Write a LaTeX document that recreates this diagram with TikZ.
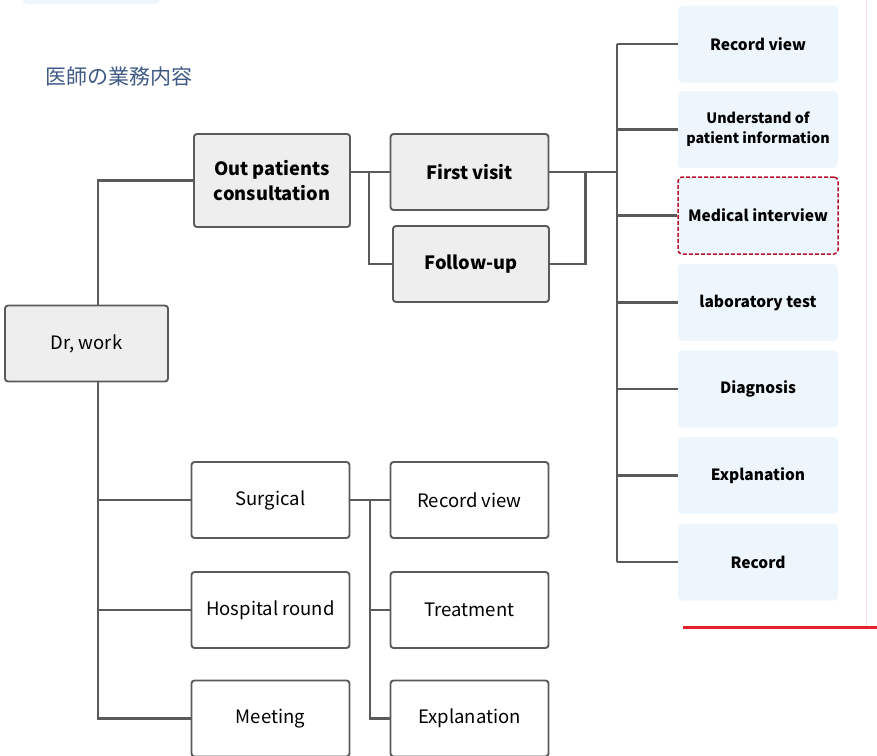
\documentclass[tikz,border=0pt]{standalone}
\usepackage{fontspec}
\setmainfont{Noto Sans CJK JP}
\definecolor{linegray}{HTML}{5A5A5A}
\definecolor{boxgray}{HTML}{EEEEEE}
\definecolor{paleblue}{HTML}{EDF6FD}
\definecolor{titleblue}{HTML}{3E5A85}
\definecolor{hlred}{HTML}{B8102A}
\definecolor{barred}{HTML}{E8202A}
\begin{document}
\begin{tikzpicture}[
            x=1pt, y=-1pt,
            every node/.style={align=center, inner sep=0pt},
            box/.style={draw=linegray, line width=1.9pt, rounded corners=3pt,
                minimum width=158pt, minimum height=76pt},
            graybox/.style={box, fill=boxgray, font=\fontsize{18.3}{25}\selectfont\bfseries},
            whitebox/.style={box, fill=white, font=\fontsize{18.5}{25}\selectfont},
            bluebox/.style={fill=paleblue, rounded corners=4pt, minimum width=160pt,
                minimum height=77pt, font=\fontsize{15.5}{20}\selectfont\bfseries},
            hilite/.style={draw=hlred, dash pattern=on 4pt off 2pt, line width=1.5pt},
            link/.style={draw=linegray, line width=2.1pt}
            ]
            \useasboundingbox (0,0) rectangle (877,755);
            \fill[paleblue, rounded corners=6pt] (22,-20) rectangle (160,4);
            \node[text=titleblue, font=\fontsize{21}{24}\selectfont] (title) at (118.5,77) {医師の業務内容};
            % main tree
            \node[graybox, minimum width=163pt, font=\fontsize{18.5}{25}\selectfont] (drwork) at (86.5,343.5) {Dr, work};
            \node[graybox, minimum width=156pt, minimum height=93pt] (outpat) at (272,180.5) {Out patients\\consultation};
            \node[graybox] (first) at (469.5,172) {First visit};
            \node[graybox, minimum width=156pt] (follow) at (471,264) {Follow-up};
            \node[whitebox] (surg) at (270.5,500) {Surgical};
            \node[whitebox] (round) at (270.5,610) {Hospital round};
            \node[whitebox] (meet) at (270.5,718.5) {Meeting};
            \node[whitebox] (rview) at (469.5,500) {Record view};
            \node[whitebox] (treat) at (469.5,610) {Treatment};
            \node[whitebox] (expl) at (469.5,718.5) {Explanation};
            % right column
            \node[bluebox] (r1) at (758,44) {Record view};
            \node[bluebox, font=\fontsize{14.3}{20}\selectfont\bfseries] (r2) at (758,129.5) {Understand of\\patient information};
            \node[bluebox, hilite] (r3) at (758,215.5) {Medical interview};
            \node[bluebox] (r4) at (758,302.5) {laboratory test};
            \node[bluebox] (r5) at (758,389) {Diagnosis};
            \node[bluebox] (r6) at (758,475.5) {Explanation};
            \node[bluebox] (r7) at (758,562) {Record};
            % junctions
            \coordinate (j1) at (369,172);
            \coordinate (j2) at (370,500);
            \coordinate (tk) at (617,172);
            \draw[link] ([xshift=11.5pt]drwork.north) |- (outpat.west);
            \draw[link] ([xshift=11.5pt]drwork.south) |- (meet.west);
            \draw[link] ([xshift=11.5pt]drwork.south) |- (surg.west);
            \draw[link] ([xshift=11.5pt]drwork.south) |- (round.west);
            \draw[link] (outpat.east |- first.west) -- (first.west);
            \draw[link] (j1) |- (follow.west);
            \draw[link] (first.east) -- (tk);
            \draw[link] (follow.east) -| ([xshift=36pt]first.east);
            \draw[link] (r1.west -| tk) -- (r7.west -| tk);
            \foreach \i in {1,...,7}
                \draw[link] (r\i.west -| tk) -- (r\i.west);
            \draw[link] (surg.east) -- (rview.west);
            \draw[link] (j2) |- (treat.west);
            \draw[link] (j2) |- (expl.west);
            % red frame edge
            \draw[red!12, line width=1pt] (866,0) -- (866,627);
            \draw[barred, line width=3pt] (683,627) -- (877,627);
        \end{tikzpicture}
\end{document}
